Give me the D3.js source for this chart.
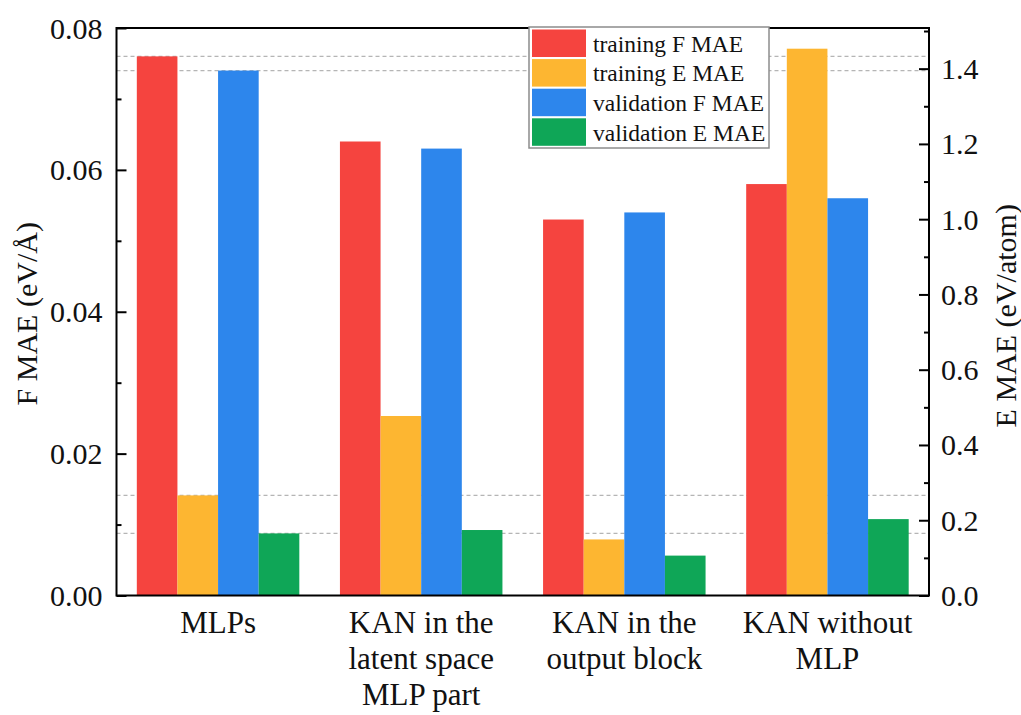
<!DOCTYPE html>
<html lang="en">
<head>
    <meta charset="UTF-8">
    <title>MAE comparison</title>
    <script src="https://d3js.org/d3.v7.min.js"></script>
    <style>
        body { margin: 0; background: #fff; }
    </style>
</head>
<body>
<div id="chart"></div>
<script>
    // categories (multi-line labels)
    const categories = ["MLPs", "KAN in the latent space MLP part", "KAN in the output block", "KAN without MLP"];
    const categoryLines = [["MLPs"], ["KAN in the", "latent space", "MLP part"], ["KAN in the", "output block"], ["KAN without", "MLP"]];

    // series values
    const trainingF = [0.076, 0.064, 0.053, 0.058];
    const trainingE = [0.266, 0.477, 0.149, 1.453];
    const validationF = [0.074, 0.063, 0.054, 0.056];
    const validationE = [0.165, 0.174, 0.106, 0.203];

    const seriesNames = ["training F MAE", "training E MAE", "validation F MAE", "validation E MAE"];
    const seriesAxis = ["F", "E", "F", "E"];
    const seriesColors = ["#f5443f", "#fdb631", "#2d86ec", "#0fa657"];

    const leftTicks = [0.00, 0.02, 0.04, 0.06, 0.08];
    const rightTicks = [0.0, 0.2, 0.4, 0.6, 0.8, 1.0, 1.2, 1.4];

    const width = 1021, height = 715;
    const margin = {top: 28, right: 92, bottom: 119.5, left: 116.5};
    const innerW = width - margin.left - margin.right;
    const innerH = height - margin.top - margin.bottom;
    const serif = "'Liberation Serif', 'Times New Roman', Times, 'DejaVu Serif', serif";

    const svg = d3.select("#chart").append("svg")
        .attr("width", width)
        .attr("height", height)
        .attr("font-family", serif)
        .style("font-family", serif);

    const g = svg.append("g").attr("transform", `translate(${margin.left},${margin.top})`);

    const x0 = d3.scaleBand().domain(categories).range([0, innerW]).paddingInner(0.2).paddingOuter(0.1);
    const x1 = d3.scaleBand().domain(seriesNames).range([0, x0.bandwidth()]);
    const yF = d3.scaleLinear().domain([0, 0.08]).range([innerH, 0]);
    const yE = d3.scaleLinear().domain([0, 1.508]).range([innerH, 0]);

    const seriesData = [trainingF, trainingE, validationF, validationE];

    // dashed reference lines at the MLPs baseline values
    const refs = [
        {v: trainingF[0], s: yF}, {v: validationF[0], s: yF},
        {v: trainingE[0], s: yE}, {v: validationE[0], s: yE}
    ];
    g.append("g").selectAll("line")
        .data(refs)
        .join("line")
        .attr("x1", 0).attr("x2", innerW)
        .attr("y1", d => d.s(d.v)).attr("y2", d => d.s(d.v))
        .attr("stroke", "#b5b5b5")
        .attr("stroke-width", 1.2)
        .attr("stroke-dasharray", "4,3");

    // bars
    const groups = g.append("g").selectAll("g")
        .data(categories)
        .join("g")
        .attr("transform", d => `translate(${x0(d)},0)`);

    groups.selectAll("rect")
        .data((c, ci) => seriesNames.map((s, si) => ({s, si, v: seriesData[si][ci]})))
        .join("rect")
        .attr("x", d => x1(d.s))
        .attr("width", x1.bandwidth())
        .attr("y", d => (seriesAxis[d.si] === "F" ? yF : yE)(d.v))
        .attr("height", d => innerH - (seriesAxis[d.si] === "F" ? yF : yE)(d.v))
        .attr("fill", d => seriesColors[d.si]);

    // frame
    g.append("rect")
        .attr("width", innerW).attr("height", innerH)
        .attr("fill", "none").attr("stroke", "#000").attr("stroke-width", 2);

    // left axis, ticks inside
    const leftAxis = g.append("g")
        .call(d3.axisRight(yF).tickValues(leftTicks).tickSize(10).tickFormat(""));
    leftAxis.select(".domain").remove();
    leftAxis.selectAll("line").attr("stroke-width", 2);
    const leftMinor = g.append("g")
        .call(d3.axisRight(yF).tickValues([0.01, 0.03, 0.05, 0.07]).tickSize(5).tickFormat(""));
    leftMinor.select(".domain").remove();
    leftMinor.selectAll("line").attr("stroke-width", 2);

    g.append("g").selectAll("text")
        .data(leftTicks)
        .join("text")
        .attr("x", -14)
        .attr("y", d => yF(d))
        .attr("dy", "0.35em")
        .attr("text-anchor", "end")
        .attr("fill", "#111")
        .style("font-size", "30px")
        .text(d => d3.format(".2f")(d));

    // right axis, ticks inside
    const rightAxis = g.append("g")
        .attr("transform", `translate(${innerW},0)`)
        .call(d3.axisLeft(yE).tickValues(rightTicks).tickSize(10).tickFormat(""));
    rightAxis.select(".domain").remove();
    rightAxis.selectAll("line").attr("stroke-width", 2);
    const rightMinor = g.append("g")
        .attr("transform", `translate(${innerW},0)`)
        .call(d3.axisLeft(yE).tickValues([0.1, 0.3, 0.5, 0.7, 0.9, 1.1, 1.3, 1.5]).tickSize(5).tickFormat(""));
    rightMinor.select(".domain").remove();
    rightMinor.selectAll("line").attr("stroke-width", 2);

    g.append("g").selectAll("text")
        .data(rightTicks)
        .join("text")
        .attr("x", innerW + 12)
        .attr("y", d => yE(d))
        .attr("dy", "0.35em")
        .attr("fill", "#111")
        .style("font-size", "30px")
        .text(d => d3.format(".1f")(d));

    // category labels
    const catLabels = g.append("g").selectAll("text")
        .data(categories)
        .join("text")
        .attr("text-anchor", "middle")
        .attr("fill", "#111")
        .attr("transform", d => `translate(${x0(d) + x0.bandwidth() / 2},${innerH + 37})`)
        .style("font-size", "31px");
    catLabels.selectAll("tspan")
        .data((d, i) => categoryLines[i])
        .join("tspan")
        .attr("x", 0)
        .attr("y", (d, i) => i * 36)
        .text(d => d);

    // axis titles
    svg.append("text")
        .attr("transform", `translate(37,${margin.top + innerH / 2 + 2}) rotate(-90)`)
        .attr("text-anchor", "middle")
        .attr("fill", "#111")
        .style("font-size", "30px")
        .text("F MAE (eV/Å)");

    svg.append("text")
        .attr("transform", `translate(1016,${margin.top + innerH / 2 + 4}) rotate(-90)`)
        .attr("text-anchor", "middle")
        .attr("fill", "#111")
        .style("font-size", "30px")
        .text("E MAE (eV/atom)");

    // legend
    const legend = svg.append("g").attr("transform", "translate(529,27)");
    legend.append("rect")
        .attr("width", 240).attr("height", 121)
        .attr("fill", "#fff").attr("stroke", "#8c8c8c").attr("stroke-width", 1.5);
    const items = legend.selectAll("g.item")
        .data(seriesNames)
        .join("g")
        .attr("class", "item")
        .attr("transform", (d, i) => `translate(3,${2.5 + i * 29.6})`);
    items.append("rect")
        .attr("width", 54).attr("height", 27.5)
        .attr("fill", (d, i) => seriesColors[i]);
    items.append("text")
        .attr("x", 61)
        .attr("y", 14)
        .attr("dy", "0.35em")
        .attr("fill", "#111")
        .style("font-size", "23.5px")
        .text(d => d);
</script>
</body>
</html>
